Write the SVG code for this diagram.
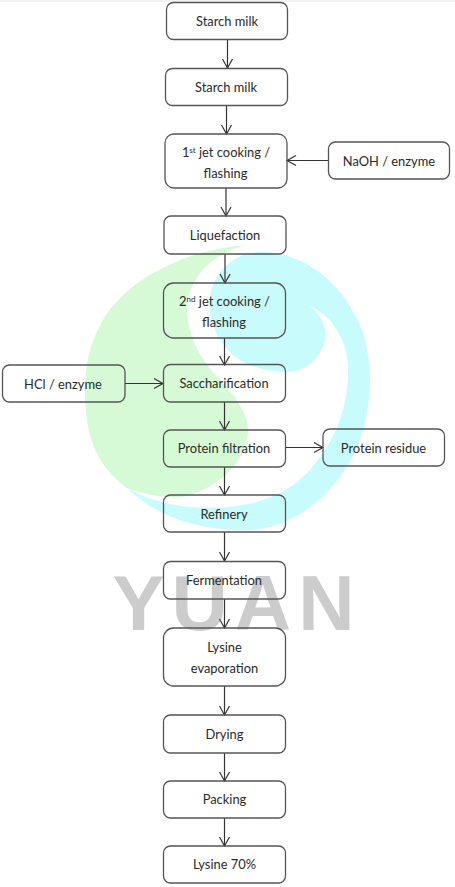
<svg xmlns="http://www.w3.org/2000/svg" width="455" height="887" viewBox="0 0 455 887">
<defs>
<style>
.n{fill:none;stroke:#555;stroke-width:1.3}
.t{font-family:"Lato","Carlito","Liberation Sans",sans-serif;font-size:12.9px;fill:#2a2a2a;text-anchor:middle}
.s{font-size:8px}
.c{fill:none;stroke:#333;stroke-width:1.2}
.h{fill:none;stroke:#333;stroke-width:1.2}
</style>
<marker id="a" markerUnits="userSpaceOnUse" markerWidth="12" markerHeight="12" refX="10" refY="6" orient="auto" viewBox="0 0 12 12"><path d="M1 1L10 6L1 11" class="h"/></marker>
</defs>
<rect width="455" height="887" fill="#fff"/>
<rect width="455" height="2" fill="#f2f2f2"/>
<g id="watermark">
<path fill="#d6fad6" d="M245 245C190 250 130 275 103 320C85 350 82 385 87 420C91 450 105 472 127 488C145 495 165 498 182 497C215 490 245 465 248 433C249 415 238 402 227 387C205 365 190 345 187 313C186 280 210 255 245 245Z"/>
<path fill="#c8fbfb" d="M260 252C310 252 345 290 360 325C374 360 373 405 358 445C340 490 295 530 247 530C195 531 155 515 127 488C145 498 165 505 190 507C230 510 275 505 305 475C335 445 350 405 348 363C345 335 330 315 310 306C320 315 327 325 325 340C320 360 305 372 287 372C260 372 235 362 224 345C212 330 208 312 210 297C213 272 235 252 260 252Z"/>
<text x="237" y="630" font-family="Liberation Sans,sans-serif" font-size="78" font-weight="700" letter-spacing="7" fill="#cccccc" text-anchor="middle">YUAN</text>
</g>
<g id="connectors">
<path class="c" marker-end="url(#a)" d="M227.500 40V68"/>
<path class="c" marker-end="url(#a)" d="M226.500 106V134"/>
<path class="c" marker-end="url(#a)" d="M329 160.500H287"/>
<path class="c" marker-end="url(#a)" d="M226 188V216"/>
<path class="c" marker-end="url(#a)" d="M225 254V283"/>
<path class="c" marker-end="url(#a)" d="M224.500 338V365"/>
<path class="c" marker-end="url(#a)" d="M125 383.500H163"/>
<path class="c" marker-end="url(#a)" d="M224.500 402V430"/>
<path class="c" marker-end="url(#a)" d="M285 447.500H323"/>
<path class="c" marker-end="url(#a)" d="M224.500 467V495"/>
<path class="c" marker-end="url(#a)" d="M224.500 532V561"/>
<path class="c" marker-end="url(#a)" d="M224.500 599V628"/>
<path class="c" marker-end="url(#a)" d="M224.500 686V715"/>
<path class="c" marker-end="url(#a)" d="M224.500 753V781"/>
<path class="c" marker-end="url(#a)" d="M224.500 818V846"/>
</g>
<g id="n1"><rect class="n" x="166.500" y="2.500" width="121" height="37" rx="7"/><text class="t" x="227" y="25.500">Starch milk</text></g>
<g id="n2"><rect class="n" x="165.500" y="68.500" width="122" height="37" rx="7"/><text class="t" x="226" y="91.500">Starch milk</text></g>
<g id="n3"><rect class="n" x="165" y="134" width="122" height="54" rx="9"/><text class="t" x="226" y="156.500">1<tspan class="s" dy="-4">st</tspan><tspan dy="4"> jet cooking /</tspan></text><text class="t" x="225.500" y="177.500">flashing</text></g>
<g id="n4"><rect class="n" x="328.500" y="142" width="121" height="37" rx="7"/><text class="t" x="389" y="165.500">NaOH / enzyme</text></g>
<g id="n5"><rect class="n" x="164" y="216" width="122" height="38" rx="7"/><text class="t" x="225" y="240">Liquefaction</text></g>
<g id="n6"><rect class="n" x="163.500" y="283" width="122" height="55" rx="10"/><text class="t" x="224.500" y="306">2<tspan class="s" dy="-4">nd</tspan><tspan dy="4"> jet cooking /</tspan></text><text class="t" x="224" y="326.500">flashing</text></g>
<g id="n7"><rect class="n" x="2.500" y="365" width="122.500" height="37" rx="7"/><text class="t" x="63" y="388.500">HCl / enzyme</text></g>
<g id="n8"><rect class="n" x="163.500" y="364.500" width="122" height="37.500" rx="7"/><text class="t" x="224" y="388">Saccharification</text></g>
<g id="n9"><rect class="n" x="163.500" y="430" width="122" height="37" rx="7"/><text class="t" x="224" y="453">Protein filtration</text></g>
<g id="n10"><rect class="n" x="323" y="429" width="121.500" height="37" rx="7"/><text class="t" x="383.500" y="452.500">Protein residue</text></g>
<g id="n11"><rect class="n" x="163.500" y="495" width="122" height="37" rx="7"/><text class="t" x="224" y="518.500">Refinery</text></g>
<g id="n12"><rect class="n" x="163.500" y="561.500" width="122" height="37.500" rx="7"/><text class="t" x="224" y="585">Fermentation</text></g>
<g id="n13"><rect class="n" x="163.500" y="628" width="122" height="58" rx="10"/><text class="t" x="224.500" y="652">Lysine</text><text class="t" x="224.500" y="673">evaporation</text></g>
<g id="n14"><rect class="n" x="163.500" y="715" width="122" height="38" rx="7"/><text class="t" x="224.500" y="739">Drying</text></g>
<g id="n15"><rect class="n" x="163.500" y="781" width="122" height="37" rx="7"/><text class="t" x="224.500" y="804">Packing</text></g>
<g id="n16"><rect class="n" x="163.500" y="846" width="122" height="37" rx="7"/><text class="t" x="224.500" y="869">Lysine 70%</text></g>
</svg>
